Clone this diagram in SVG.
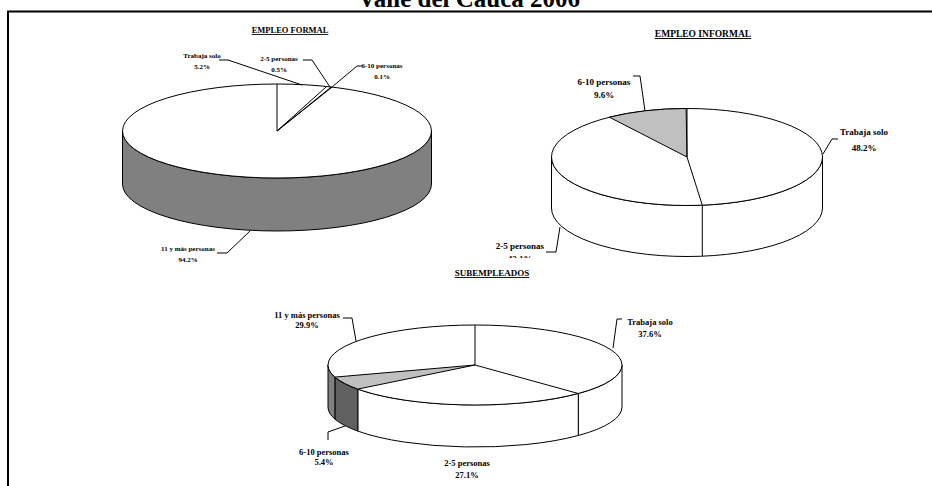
<svg xmlns="http://www.w3.org/2000/svg" width="932" height="486" viewBox="0 0 932 486">
<style>
text{font-family:"Liberation Serif","Times New Roman",serif;font-weight:bold;fill:#000;text-anchor:middle}
.t{font-size:25px}
.h1{font-size:8.5px;text-decoration:underline}
.h2{font-size:9.5px;text-decoration:underline}
.h3{font-size:9px;text-decoration:underline}
.f{font-size:7px}
.i{font-size:9px}
.s{font-size:8.5px}
.e{stroke:#000;stroke-width:1;stroke-linejoin:round}
.ld{fill:none;stroke:#000;stroke-width:1}
.w{fill:#fff}
.g1{fill:#808080}
.g2{fill:#c0c0c0}
.g3{fill:#606060}
</style>
<rect width="932" height="486" fill="#fff"/>
<text class="t" x="469" y="7">Valle del Cauca 2006</text>
<path d="M8,486 V11.5 H932" fill="none" stroke="#000" stroke-width="2"/>

<g id="formal">
<text class="h1" x="290" y="33">EMPLEO FORMAL</text>
<path class="e g1" d="M122.5,131 V184 A154.5,47 0 0 0 431.5,184 V131 A154.5,47 0 0 1 122.5,131 Z"/>
<ellipse class="e w" cx="277" cy="131" rx="154.5" ry="47"/>
<path class="ld" d="M277,84 V131 L326.6,86.5 M277,131 L331.2,87 M277,131 L332.1,87.1"/>
<text class="f" x="202" y="58">Trabaja solo</text>
<text class="f" x="202" y="69">5.2%</text>
<text class="f" x="279" y="61">2-5 personas</text>
<text class="f" x="279" y="72">0.5%</text>
<text class="f" x="382" y="68">6-10 personas</text>
<text class="f" x="382" y="79">0.1%</text>
<text class="f" x="188" y="251">11 y más personas</text>
<text class="f" x="188" y="262">94.2%</text>
</g>

<g id="informal">
<text class="h2" x="703" y="37">EMPLEO INFORMAL</text>
<path class="e w" d="M551.5,157 V208 A135.5,48.5 0 0 0 822.5,208 V157 A135.5,48.5 0 0 1 551.5,157 Z"/>
<ellipse class="e w" cx="687" cy="157" rx="135.5" ry="48.5"/>
<path class="e g2" d="M687,157 L609.4,117.2 A135.5,48.5 0 0 1 686.1,108.5 Z"/>
<path class="ld" d="M687,108.5 V157 L702.3,205.2 V256.2"/>
<text class="i" x="604" y="85">6-10 personas</text>
<text class="i" x="604" y="98">9.6%</text>
<text class="i" x="864" y="135">Trabaja solo</text>
<text class="i" x="864" y="151">48.2%</text>
<text class="i" x="520" y="249">2-5 personas</text>
<text class="i" x="520" y="262">42.1%</text>
</g>

<rect x="250" y="258" width="450" height="228" fill="#fff"/>

<g id="subempleados">
<text class="h3" x="492" y="276">SUBEMPLEADOS</text>
<path class="e w" d="M622,365 A147,40 0 0 1 578.3,393.5 V435.5 A147,40 0 0 0 622,407 Z"/>
<path class="e w" d="M578.3,393.5 A147,40 0 0 1 357.8,389.1 V431.1 A147,40 0 0 0 578.3,435.5 Z"/>
<path class="e g3" d="M357.8,389.1 A147,40 0 0 1 334.9,377.1 V419.1 A147,40 0 0 0 357.8,431.1 Z"/>
<path class="e g1" d="M334.9,377.1 A147,40 0 0 1 328,365 V407 A147,40 0 0 0 334.9,419.1 Z"/>
<ellipse class="e w" cx="475" cy="365" rx="147" ry="40"/>
<path class="e g2" d="M475,365 L357.8,389.1 A147,40 0 0 1 334.9,377.1 Z"/>
<path class="ld" d="M475,325 V365 L578.3,393.5"/>
<text class="s" x="307" y="318">11 y más personas</text>
<text class="s" x="307" y="328">29.9%</text>
<text class="s" x="650" y="325">Trabaja solo</text>
<text class="s" x="650" y="337">37.6%</text>
<text class="s" x="324" y="455">6-10 personas</text>
<text class="s" x="324" y="465">5.4%</text>
<text class="s" x="467" y="466">2-5 personas</text>
<text class="s" x="467" y="478">27.1%</text>
</g>

<g id="connectors">
<path class="ld" d="M219,60 H228 L302,85"/>
<path class="ld" d="M303,60 H312 L330,87"/>
<path class="ld" d="M362,66 H357 L332,87"/>
<path class="ld" d="M217,253 H227 L250,231"/>
<path class="ld" d="M633,76 H640 L645,111"/>
<path class="ld" d="M838,139 H832 L823,154"/>
<path class="ld" d="M546,252 H556 L560,227"/>
<path class="ld" d="M343,318 H352 L356,341"/>
<path class="ld" d="M622,319 H617 L613,348"/>
<path class="ld" d="M328,440 V432 L345,426"/>
</g>
</svg>
